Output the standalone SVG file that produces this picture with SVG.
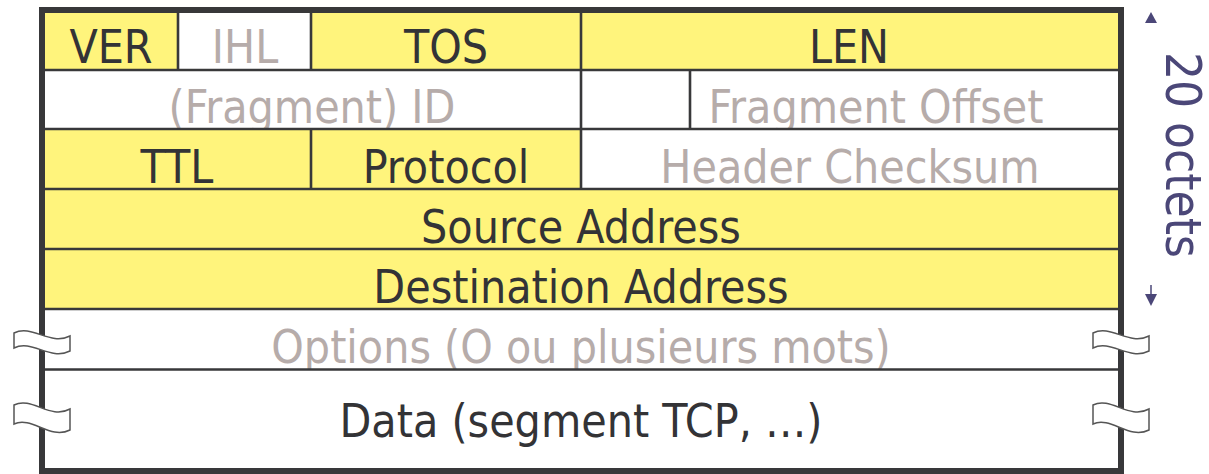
<svg xmlns="http://www.w3.org/2000/svg" width="1209" height="474" viewBox="0 0 1209 474">
<style>
.y{fill:#fff47c}
.w{fill:#ffffff}
.ln{stroke:#38383a;stroke-width:2.6;fill:none}
.t{font-family:"DejaVu Sans Condensed","DejaVu Sans",sans-serif;font-stretch:condensed;font-size:46px;text-anchor:middle}
.d{fill:#333336}
.g{fill:#b6acaa}
.brk{fill:#ffffff;stroke:#555;stroke-width:1.5}
.ar{fill:#4b4778}
</style>
<rect width="1209" height="474" fill="#ffffff"/>
<g id="fields">
<g id="ver"><rect class="y" x="45" y="13" width="133" height="57"/><text class="t d" x="111" y="63">VER</text></g>
<g id="ihl"><rect class="w" x="178" y="13" width="133" height="57"/><text class="t g" x="245" y="63">IHL</text></g>
<g id="tos"><rect class="y" x="311" y="13" width="270" height="57"/><text class="t d" x="446" y="63">TOS</text></g>
<g id="len"><rect class="y" x="581" y="13" width="537" height="57"/><text class="t d" x="849" y="63">LEN</text></g>
<g id="fragid"><rect class="w" x="45" y="70" width="536" height="59"/><text class="t g" x="312" y="123">(Fragment) ID</text></g>
<g id="flags"><rect class="w" x="581" y="70" width="109" height="59"/></g>
<g id="fragoff"><rect class="w" x="690" y="70" width="428" height="59"/><text class="t g" x="876" y="123">Fragment Offset</text></g>
<g id="ttl"><rect class="y" x="45" y="129" width="266" height="60"/><text class="t d" x="177" y="183">TTL</text></g>
<g id="proto"><rect class="y" x="311" y="129" width="270" height="60"/><text class="t d" x="446" y="183">Protocol</text></g>
<g id="chk"><rect class="w" x="581" y="129" width="537" height="60"/><text class="t g" x="850" y="183">Header Checksum</text></g>
<g id="src"><rect class="y" x="45" y="189" width="1073" height="60"/><text class="t d" x="581" y="243">Source Address</text></g>
<g id="dst"><rect class="y" x="45" y="249" width="1073" height="60"/><text class="t d" x="581" y="303">Destination Address</text></g>
<g id="opt"><rect class="w" x="45" y="309" width="1073" height="60"/><text class="t g" x="581" y="363">Options (O ou plusieurs mots)</text></g>
<g id="data"><rect class="w" x="45" y="369" width="1073" height="100"/><text class="t d" x="581" y="437">Data (segment TCP, …)</text></g>
</g>
<g id="connectors">
<path class="ln" d="M45 70H1118M45 129H1118M45 189H1118M45 249H1118M45 309H1118M45 369.5H1118"/>
<path class="ln" d="M178 13V70M311 13V70M581 13V189M690 70V129M311 129V189"/>
<rect x="42" y="10" width="1079" height="461" fill="none" stroke="#38383a" stroke-width="6"/>
</g>
<g id="breaks">
<path class="brk" d="M14 333C32 324 50 346 70 336V351C50 361 32 339 14 348Z"/>
<path class="brk" d="M14 405C32 396 50 420 70 409V430C50 440 32 416 14 424Z"/>
<path class="brk" d="M1093 333C1111 324 1129 346 1149 336V351C1129 361 1111 339 1093 348Z"/>
<path class="brk" d="M1093 405C1111 396 1129 420 1149 409V430C1129 440 1111 416 1093 424Z"/>
</g>
<g id="size">
<path class="ar" d="M1151 12L1157 23H1145Z"/>
<path d="M1151 285V295" stroke="#4b4778" stroke-width="1.5"/>
<path class="ar" d="M1151 306L1157 294H1145Z"/>
<text transform="translate(1166 155) rotate(90)" font-family="DejaVu Sans Condensed, DejaVu Sans, sans-serif" font-stretch="condensed" font-size="49" fill="#4b4778" text-anchor="middle">20 octets</text>
</g>
</svg>
